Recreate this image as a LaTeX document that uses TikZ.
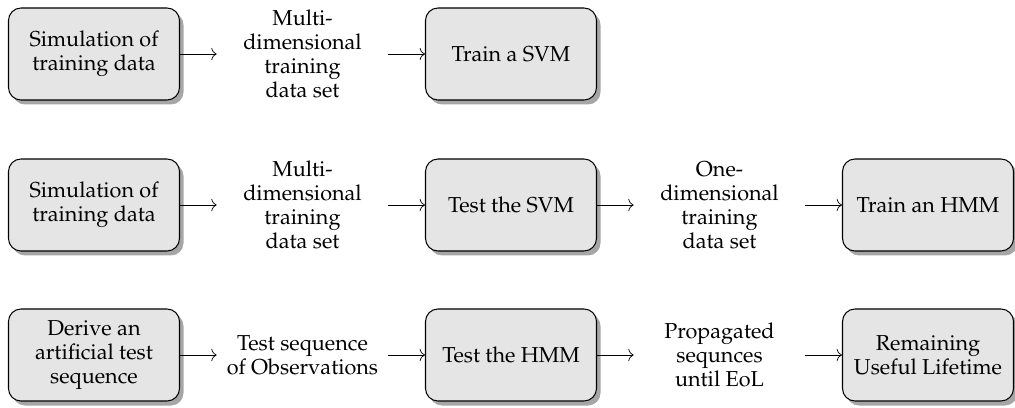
\documentclass[tikz,border=0pt]{standalone}
\usepackage[T1]{fontenc}
\usepackage{mathpazo}
\usetikzlibrary{arrows.meta,shadows}

\begin{document}
\begin{tikzpicture}[
    block/.style={draw=black, semithick, rounded corners=0.25cm, fill=gray!20,
      drop shadow={shadow xshift=0.08cm, shadow yshift=-0.09cm, fill=black!35, opacity=1},
      minimum width=3.42cm, minimum height=1.84cm, align=center, inner sep=2pt},
    label/.style={minimum width=3.42cm, minimum height=1.84cm, align=center, inner sep=0pt},
    flow/.style={-{To[length=3pt,width=7pt]}, thin},
    font=\fontsize{12.3}{13.6}\selectfont]
  \useasboundingbox (0,0) rectangle (20.3,8.14);
  % first row
  \node[block] (simA) at (1.88,7.06) {Simulation of\\training data};
  \node[label] (setA) at (6.05,7.06) {Multi-\\dimensional\\training\\data set};
  \node[block] (svmtrain) at (10.22,7.06) {Train a SVM};
  \draw[flow] (simA) -- (setA);
  \draw[flow] (setA) -- (svmtrain);
  % second row
  \node[block] (simB) at (1.88,4.04) {Simulation of\\training data};
  \node[label] (setB) at (6.05,4.04) {Multi-\\dimensional\\training\\data set};
  \node[block] (svmtest) at (10.22,4.04) {Test the SVM};
  \node[label] (setC) at (14.39,4.04) {One-\\dimensional\\training\\data set};
  \node[block] (hmmtrain) at (18.56,4.04) {Train an HMM};
  \draw[flow] (simB) -- (setB);
  \draw[flow] (setB) -- (svmtest);
  \draw[flow] (svmtest) -- (setC);
  \draw[flow] (setC) -- (hmmtrain);
  % third row
  \node[block] (derive) at (1.88,1.04) {Derive an\\artificial test\\sequence};
  \node[label] (obs) at (6.05,1.04) {Test sequence\\of Observations};
  \node[block] (hmmtest) at (10.22,1.04) {Test the HMM};
  \node[label] (prop) at (14.39,1.04) {Propagated\\sequnces\\until EoL};
  \node[block] (rul) at (18.56,1.04) {Remaining\\Useful Lifetime};
  \draw[flow] (derive) -- (obs);
  \draw[flow] (obs) -- (hmmtest);
  \draw[flow] (hmmtest) -- (prop);
  \draw[flow] (prop) -- (rul);
\end{tikzpicture}
\end{document}
